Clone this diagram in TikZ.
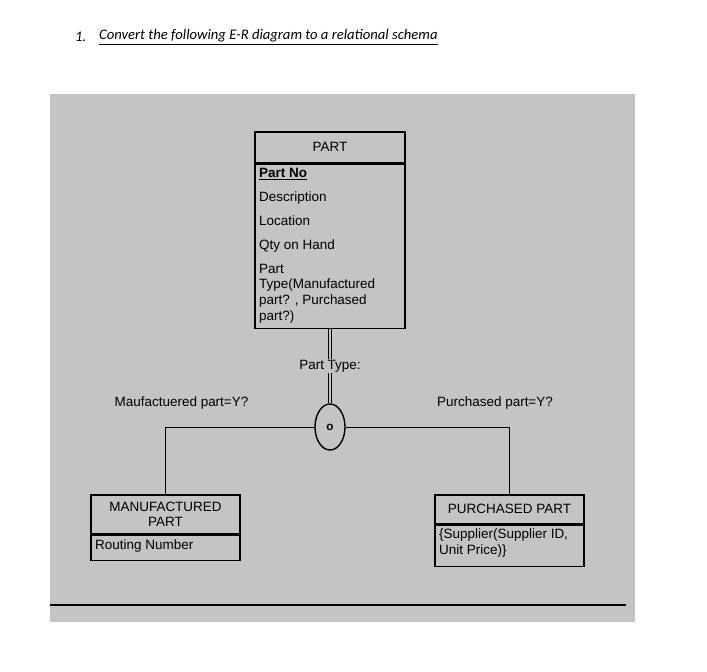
\documentclass[tikz,border=0pt]{standalone}
\usepackage{fontspec}
\setmainfont{Liberation Sans}
\newfontfamily\titlefont{Carlito}
\usetikzlibrary{shapes.geometric}
\definecolor{panelgray}{RGB}{196,196,196}

\begin{document}
\begin{tikzpicture}[x=0.03cm, y=-0.03cm,
    every node/.style={font=\fontsize{11.5}{13.6}\selectfont, inner sep=1pt},
    entity/.style={draw, line width=1.3pt, anchor=north, align=center, inner sep=0pt},
    attrs/.style={draw, line width=1.3pt, anchor=north, inner xsep=3.4pt, inner ysep=0pt},
    link/.style={line width=0.8pt}]
    \useasboundingbox (0,0) rectangle (707,671);
    % Fondo
    \fill[panelgray] (50,94) rectangle (635,622);
    \draw[line width=1pt] (50,605) -- (626,605);

    % Enunciado
    \node[anchor=west, inner sep=0pt, font=\titlefont\itshape\fontsize{12.5}{15}\selectfont] (num) at (75,37) {1.};
    \node[anchor=west, inner sep=0pt, font=\titlefont\itshape\fontsize{12.5}{15}\selectfont] (title) at (99,37) {\underline{Convert the following E-R diagram to a relational schema}};

    % Supertipo
    \node[entity, minimum width=4.5cm, minimum height=0.93cm] (parthead) at (330,131) {PART};
    \node[attrs] (partbody) at (parthead.south) {\parbox[c][4.92cm][t]{121pt}{\vspace*{3.3pt}\underline{\textbf{Part No}}\\[6.8pt]
        Description\\[6.8pt] Location\\[6.8pt] Qty on Hand\\[6.8pt] Part\\ Type(Manufactured\\ part? , Purchased\\ part?)}};

    \node[draw, ellipse, line width=1.2pt, minimum width=0.9cm, minimum height=1.38cm, inner sep=0pt,
        font=\fontsize{10}{12}\selectfont] (ptype) at (330,427) {\textbf{o}};

    \node (mfglabel) at (181.5,403.5) {Maufactuered part=Y?};
    \node (purlabel) at (495,403.5) {Purchased part=Y?};

    % Subtipos
    \node[entity, minimum width=4.47cm, minimum height=1.17cm] (mfghead) at (165.5,494) {MANUFACTURED\\PART};
    \node[attrs] (mfgbody) at (mfghead.south) {\parbox[c][0.75cm][t]{120pt}{\vspace*{3.7pt}Routing Number}};

    \node[entity, minimum width=4.47cm, minimum height=0.87cm] (purhead) at (509.5,494) {PURCHASED PART};
    \node[attrs] (purbody) at (purhead.south) {\parbox[c][1.23cm][t]{120pt}{\vspace*{2.7pt}\{Supplier(Supplier ID,\\ Unit Price)\}}};

    \draw[link, line width=0.7pt, double=panelgray, double distance=1.7pt] (partbody) -- node[fill=panelgray] {Part Type:} (ptype);
    \draw[link] (ptype.west) -| (mfghead.north);
    \draw[link] (ptype.east) -| (purhead.north);
\end{tikzpicture}
\end{document}
